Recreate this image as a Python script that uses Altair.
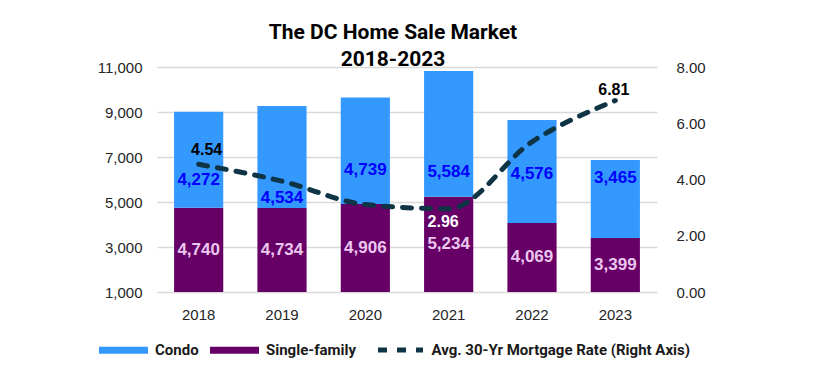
import altair as alt
import pandas as pd

years = ["2018", "2019", "2020", "2021", "2022", "2023"]
single_family = [4740, 4734, 4906, 5234, 4069, 3399]
condo = [4272, 4534, 4739, 5584, 4576, 3465]
rate = [4.54, 3.94, 3.11, 2.96, 5.34, 6.81]
condo_label_at = [5956, 5200, 6413, 6324, 6236, 6058]

SERIES_LINE = "Avg. 30-Yr Mortgage Rate (Right Axis)"

long_rows = []
for y, s, c in zip(years, single_family, condo):
    long_rows.append({"year": y, "type": "Single-family", "value": s, "stackorder": 0})
    long_rows.append({"year": y, "type": "Condo", "value": c, "stackorder": 1})
bars_df = pd.DataFrame(long_rows)

wide_df = pd.DataFrame({
    "year": years,
    "sf": single_family,
    "condo": condo,
    "condo_at": condo_label_at,
    "rate": rate,
    "series": [SERIES_LINE] * len(years),
})

xenc = alt.X("year:N", title=None,
             scale=alt.Scale(paddingInner=0.41, paddingOuter=0.205),
             axis=alt.Axis(labelAngle=0, domain=False, ticks=False, labelPadding=15,
                           labelFont="Liberation Sans", labelFontSize=15, labelColor="#262626"))

yleft_scale = alt.Scale(domain=[1000, 11000], nice=False, zero=False)
yright_scale = alt.Scale(domain=[0, 8], nice=False)

bars = alt.Chart(bars_df).mark_bar(clip=True).encode(
    x=xenc,
    y=alt.Y("value:Q", stack="zero", scale=yleft_scale, title=None,
            axis=alt.Axis(values=[1000, 3000, 5000, 7000, 9000, 11000], format=",.0f",
                          grid=True, gridColor="#D9D9D9", gridWidth=1.5, domain=False,
                          ticks=False, labelPadding=15, labelFont="Liberation Sans",
                          labelFontSize=15, labelColor="#262626")),
    color=alt.Color("type:N",
                    scale=alt.Scale(domain=["Condo", "Single-family"], range=["#3399FF", "#660066"]),
                    legend=alt.Legend(orient="none", legendX=-58, legendY=258.5, direction="horizontal",
                                      title=None, symbolType="M-1,-0.14L1,-0.14L1,0.14L-1,0.14Z",
                                      symbolSize=2401, symbolStrokeWidth=0, labelOffset=7,
                                      columnPadding=11, padding=0, labelFont="Roboto",
                                      labelFontWeight="bold", labelFontSize=15, labelColor="#1a1a1a",
                                      labelLimit=400)),
    order=alt.Order("stackorder:Q"),
)

condo_labels = alt.Chart(wide_df).mark_text(
    font="Liberation Sans", fontWeight="bold", fontSize=17, color="#0000FF", baseline="middle"
).encode(x=alt.X("year:N"), y=alt.Y("condo_at:Q", scale=yleft_scale), text=alt.Text("condo:Q", format=",.0f"))

sf_labels = alt.Chart(wide_df).transform_calculate(
    sf_at="(1000 + datum.sf) / 2"
).mark_text(
    font="Liberation Sans", fontWeight="bold", fontSize=17, color="#EBC7EF", baseline="middle"
).encode(x=alt.X("year:N"), y=alt.Y("sf_at:Q", scale=yleft_scale), text=alt.Text("sf:Q", format=",.0f"))

left = alt.layer(bars, condo_labels, sf_labels)

line = alt.Chart(wide_df).mark_line(
    strokeWidth=5, strokeDash=[9, 10], strokeCap="round", interpolate="monotone"
).encode(
    x=alt.X("year:N"),
    y=alt.Y("rate:Q", scale=yright_scale, title=None,
            axis=alt.Axis(orient="right", values=[0, 2, 4, 6, 8], format=".2f", grid=False,
                          domain=False, ticks=False, labelPadding=19, labelFont="Liberation Sans",
                          labelFontSize=15, labelColor="#262626")),
    color=alt.Color("series:N", scale=alt.Scale(domain=[SERIES_LINE], range=["#0F3446"]),
                    legend=alt.Legend(orient="none", legendX=218.5, legendY=258, title=None,
                                      symbolType="stroke", symbolSize=2025, symbolStrokeWidth=5,
                                      symbolDash=[9, 10], labelOffset=6, padding=0,
                                      labelFont="Roboto", labelFontWeight="bold", labelFontSize=15,
                                      labelColor="#1a1a1a", labelLimit=400)),
)

def rate_label(year, dx, dy, color):
    return alt.Chart(wide_df).transform_filter(alt.datum.year == year).mark_text(
        font="Liberation Sans", fontWeight="bold", fontSize=16, color=color,
        baseline="middle", dx=dx, dy=dy
    ).encode(x=alt.X("year:N"), y=alt.Y("rate:Q", scale=yright_scale),
             text=alt.Text("rate:Q", format=".2f"))

right = alt.layer(
    line,
    rate_label("2018", 8, -14, "#000000"),
    rate_label("2021", -5.5, 13, "#FFFFFF"),
    rate_label("2023", -1.5, -10.5, "#000000"),
)

chart = alt.layer(left, right).resolve_scale(
    y="independent", color="independent"
).properties(
    width=500, height=225,
    autosize=alt.AutoSizeParams(type="none"),
    padding={"left": 149, "top": 59, "right": 157, "bottom": 91},
    title=alt.TitleParams(["The DC Home Sale Market", "2018-2023"], anchor="middle", dx=-14,
                          font="Roboto", fontWeight="bold", fontSize=21, color="#000000",
                          lineHeight=27.5, offset=-10),
).configure_view(stroke=None)

chart.save("out.html", embed_options={"renderer": "svg", "actions": False})
